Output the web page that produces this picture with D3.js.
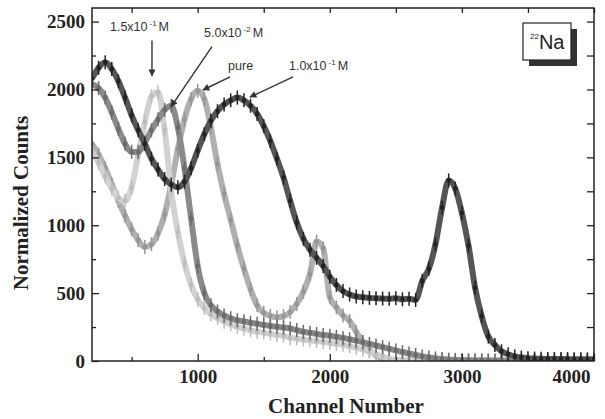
<!DOCTYPE html>
<html>
<head>
<meta charset="utf-8">
<script src="https://cdnjs.cloudflare.com/ajax/libs/d3/7.8.5/d3.min.js"></script>
<style>
body{margin:0;background:#fff;}
.tick text{font-family:"Liberation Serif","Times New Roman",serif;font-weight:bold;font-size:19px;fill:#222;}
.axislabel{font-family:"Liberation Serif","Times New Roman",serif;font-weight:bold;font-size:21px;fill:#222;}
.note{font-family:"Liberation Sans",Arial,sans-serif;font-size:12.5px;fill:#333;}
</style>
</head>
<body>
<div id="chart"></div>
<script>
// channel numbers (x values, every 50 channels)
var channels = [200,250,300,350,400,450,500,550,600,650,700,750,800,850,900,950,1000,1050,1100,1150,
  1200,1250,1300,1350,1400,1450,1500,1550,1600,1650,1700,1750,1800,1850,1900,1950,2000,2050,2100,2150,
  2200,2250,2300,2350,2400,2450,2500,2550,2600,2650,2700,2750,2800,2850,2900,2950,3000,3050,3100,3150,
  3200,3250,3300,3350,3400,3450,3500,3550,3600,3650,3700,3750,3800,3850,3900,3950,4000];

// normalized counts
var counts_pure = [1600,1520,1420,1300,1180,1070,970,890,840,860,940,1080,1300,1560,1780,1930,1990,1930,1720,1450,
  1230,1040,850,680,530,410,355,332,322,330,360,420,510,640,880,830,470,395,335,295,
  215,140,80,40,18,8,5,3,3,3,3,3,3,3,3,3,3,3,3,3,
  3,3,3,3,3,3,3,3,3,3,3,3,3,3,3,3,3];
var counts_15 = [1540,1460,1360,1270,1200,1180,1280,1520,1760,1950,1980,1700,1250,950,720,560,455,390,345,315,
  290,270,252,238,226,216,208,200,192,186,170,165,158,152,146,140,134,127,120,110,
  98,84,68,50,32,17,8,5,4,3,3,3,3,3,3,3,3,3,3,3,
  3,3,3,3,3,3,3,3,3,3,3,3,3,3,3,3,3];
var counts_05 = [2040,2010,1940,1830,1710,1600,1540,1540,1610,1700,1780,1850,1880,1720,1420,1050,700,500,410,365,
  335,315,300,292,282,275,265,258,252,246,240,228,215,208,200,192,186,178,170,160,
  150,138,126,114,102,90,78,66,55,44,34,26,19,14,10,8,6,5,4,3,
  3,2,2,2,2,2,2,2,2,2,2,2,2,2,2,2,2];
var counts_10 = [2080,2160,2200,2150,2060,1940,1810,1700,1600,1490,1410,1340,1300,1280,1320,1420,1550,1670,1770,1840,
  1890,1920,1940,1920,1880,1820,1730,1620,1490,1350,1180,1020,900,820,760,700,620,560,515,490,
  475,470,465,462,460,458,462,455,458,450,590,680,860,1130,1330,1270,1090,850,540,330,
  180,118,72,50,34,26,21,18,16,15,15,14,14,13,13,12,12];

var xTicks = [1000,2000,3000,4000];
var xMinor = [500,1500,2500,3500];
var yTicks = [0,500,1000,1500,2000,2500];
var yMinor = [250,750,1250,1750,2250];

var series = [
  {name:"pure", values:counts_pure, color:"#b0b0b0", mark:"#959595"},
  {name:"1.5x10-1M", values:counts_15, color:"#d2d2d2", mark:"#bcbcbc"},
  {name:"5.0x10-2M", values:counts_05, color:"#8a8a8a", mark:"#6a6a6a"},
  {name:"1.0x10-1M", values:counts_10, color:"#555", mark:"#222"}
];

// annotation labels with arrows (data units)
var notes = [
  {t:"1.5x10", s:"-1", u:"M", at:[336,2430], from:[654,2360], to:[654,2100]},
  {t:"5.0x10", s:"-2", u:"M", at:[1048,2386], from:[1108,2315], to:[800,1875]},
  {t:"pure",   s:"",   u:"",  at:[1230,2140], from:[1245,2092], to:[1040,1996]},
  {t:"1.0x10", s:"-1", u:"M", at:[1691,2140], from:[1722,2092], to:[1396,1944]}
];

var draw = function(){
  var svg = d3.select("#chart").append("svg").attr("width",605).attr("height",419);
  svg.append("rect").attr("width",605).attr("height",419).attr("fill","#fff");

  var x = d3.scaleLinear().domain([200,4000]).range([92,594]);
  var y = d3.scaleLinear().domain([0,2600]).range([361,8]);

  svg.append("defs").append("clipPath").attr("id","plot")
    .append("rect").attr("x",92).attr("y",8).attr("width",502).attr("height",353);

  svg.select("defs").append("marker").attr("id","head")
    .attr("viewBox","0 0 10 10").attr("refX",9).attr("refY",5)
    .attr("markerWidth",9).attr("markerHeight",7).attr("markerUnits","userSpaceOnUse")
    .attr("orient","auto")
    .append("path").attr("d","M0,0 L10,5 L0,10 z").attr("fill","#333");

  var line = d3.line()
    .curve(d3.curveMonotoneX)
    .x(function(d,i){ return x(channels[i]); })
    .y(function(d){ return y(d); });

  var plot = svg.append("g").attr("clip-path","url(#plot)");

  series.forEach(function(s){
    plot.append("path").datum(s.values)
      .attr("fill","none")
      .attr("stroke",s.color)
      .attr("stroke-width",6)
      .attr("stroke-linejoin","round")
      .attr("d",line);

    var pts = plot.append("g").selectAll("g").data(s.values).enter().append("g");
    pts.append("line")
      .attr("x1",function(d,i){ return x(channels[i]); })
      .attr("x2",function(d,i){ return x(channels[i]); })
      .attr("y1",function(d){ return y(d)-7; })
      .attr("y2",function(d){ return y(d)+7; })
      .attr("stroke",s.mark).attr("stroke-width",1.5);
    pts.append("rect")
      .attr("x",function(d,i){ return x(channels[i])-2; })
      .attr("y",function(d){ return y(d)-2; })
      .attr("width",4).attr("height",4)
      .attr("fill",s.mark);
  });

  // axes (ticks pointing inward)
  var axes = svg.append("g");
  axes.append("g").attr("transform","translate(0,361)")
    .call(d3.axisBottom(x).tickValues(xTicks).tickSize(-7).tickSizeOuter(0).tickPadding(9).tickFormat(d3.format("d")));
  axes.append("g").attr("transform","translate(0,361)")
    .call(d3.axisBottom(x).tickValues(xMinor).tickSize(-4).tickSizeOuter(0).tickFormat(""));
  axes.append("g").attr("transform","translate(0,8)")
    .call(d3.axisTop(x).tickValues(xTicks.concat(xMinor)).tickSize(-5).tickSizeOuter(0).tickFormat(""));
  axes.append("g").attr("transform","translate(92,0)")
    .call(d3.axisLeft(y).tickValues(yTicks).tickSize(-7).tickSizeOuter(0).tickPadding(7).tickFormat(d3.format("d")));
  axes.append("g").attr("transform","translate(92,0)")
    .call(d3.axisLeft(y).tickValues(yMinor).tickSize(-4).tickSizeOuter(0).tickFormat(""));
  axes.append("g").attr("transform","translate(594,0)")
    .call(d3.axisRight(y).tickValues(yTicks.concat(yMinor).filter(function(v){return v>0;})).tickSize(-7).tickSizeOuter(0).tickFormat(""));
  axes.selectAll(".domain").remove();
  axes.selectAll(".tick line").attr("stroke","#222").attr("stroke-width",1.3);

  // the 4000 label sits inside the picture edge
  axes.selectAll(".tick text").filter(function(d){ return d===4000; })
    .attr("text-anchor","end").attr("x",-4);

  svg.append("rect").attr("x",92).attr("y",8).attr("width",502).attr("height",353)
    .attr("fill","none").attr("stroke","#222").attr("stroke-width",1.5);

  svg.append("text").attr("class","axislabel").attr("text-anchor","middle")
    .attr("transform","translate(346,413)").text("Channel Number");
  svg.append("text").attr("class","axislabel").attr("text-anchor","middle")
    .attr("transform","translate(28,203) rotate(-90)").text("Normalized Counts");

  // annotations
  notes.forEach(function(n){
    svg.append("line")
      .attr("x1",x(n.from[0])).attr("y1",y(n.from[1]))
      .attr("x2",x(n.to[0])).attr("y2",y(n.to[1]))
      .attr("stroke","#333").attr("stroke-width",1.4)
      .attr("marker-end","url(#head)");
    var t = svg.append("text").attr("class","note")
      .attr("x",x(n.at[0])).attr("y",y(n.at[1]));
    t.append("tspan").text(n.t);
    if(n.s){
      t.append("tspan").attr("dx",2).attr("dy",-5).attr("font-size","8px").text(n.s);
      t.append("tspan").attr("dx",2).attr("dy",5).text(n.u);
    }
  });

  // isotope box with shadow
  svg.append("rect").attr("x",529).attr("y",29).attr("width",48).attr("height",37).attr("fill","#333");
  svg.append("rect").attr("x",523).attr("y",23).attr("width",48).attr("height",37)
    .attr("fill","#fff").attr("stroke","#222").attr("stroke-width",1.2);
  var iso = svg.append("text").attr("x",530).attr("y",49)
    .attr("font-family","Liberation Sans, Arial, sans-serif").attr("fill","#222");
  iso.append("tspan").attr("font-size","8px").attr("dy",-10).text("22");
  iso.append("tspan").attr("font-size","20px").attr("dy",10).text("Na");
};

window.onload = function(){
  draw();
};
</script>
</body>
</html>
